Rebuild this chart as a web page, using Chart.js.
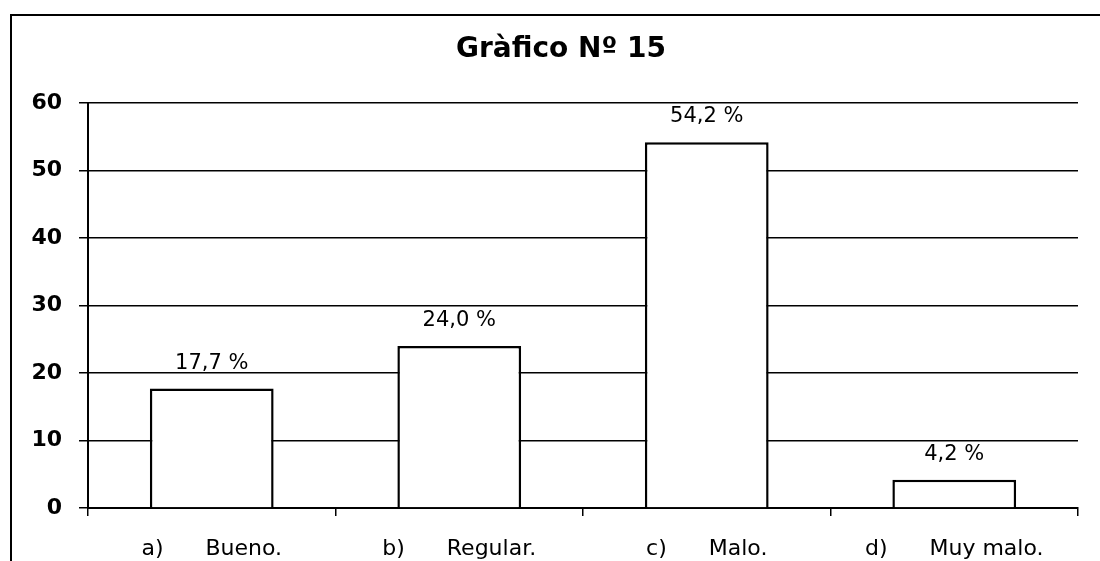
<!DOCTYPE html>
<html>
<head>
<meta charset="utf-8">
<script src="https://cdn.jsdelivr.net/npm/chart.js@4"></script>
<style>
html,body{margin:0;padding:0;background:#fff;}
#wrap{width:1100px;height:561px;position:relative;}
</style>
</head>
<body>
<div id="wrap"><canvas id="c" width="1100" height="561"></canvas></div>
<script>
const categories = ["a)      Bueno.", "b)      Regular.", "c)      Malo.", "d)      Muy malo."];
const values = [17.7, 24.0, 54.2, 4.2];
const valueLabels = ["17,7 %", "24,0 %", "54,2 %", "4,2 %"];
const yTicks = [0, 10, 20, 30, 40, 50, 60];
const titleText = "Gràfico Nº 15";

const frame = {
  id: 'frame',
  beforeDraw(chart) {
    const ctx = chart.ctx;
    ctx.save();
    ctx.fillStyle = '#fff';
    ctx.fillRect(0, 0, chart.width, chart.height);
    ctx.strokeStyle = '#000';
    ctx.lineWidth = 2;
    ctx.beginPath();
    ctx.moveTo(11, 561);
    ctx.lineTo(11, 15);
    ctx.lineTo(1100, 15);
    ctx.stroke();
    ctx.fillStyle = '#000';
    ctx.font = 'bold 28px "DejaVu Sans"';
    ctx.textAlign = 'center';
    ctx.textBaseline = 'middle';
    ctx.fillText(titleText, 561, 50);
    ctx.restore();
  }
};

const barLabels = {
  id: 'barLabels',
  afterDatasetsDraw(chart) {
    const ctx = chart.ctx;
    const meta = chart.getDatasetMeta(0);
    ctx.save();
    ctx.fillStyle = '#000';
    ctx.font = '21px "DejaVu Sans"';
    ctx.textAlign = 'center';
    ctx.textBaseline = 'alphabetic';
    meta.data.forEach((el, i) => {
      ctx.fillText(valueLabels[i], el.x, el.y - 20);
    });
    ctx.restore();
  }
};

new Chart(document.getElementById('c'), {
  type: 'bar',
  data: {
    labels: categories,
    datasets: [{
      data: values,
      backgroundColor: '#ffffff',
      borderColor: '#000000',
      borderWidth: 2.5,
      barPercentage: 0.5,
      categoryPercentage: 1.0
    }]
  },
  options: {
    responsive: false,
    animation: false,
    layout: { padding: { left: 0, right: 22, top: 103, bottom: 0 } },
    plugins: {
      legend: { display: false },
      tooltip: { enabled: false },
      title: { display: false }
    },
    scales: {
      x: {
        afterFit(scale) { scale.height = 53; },
        grid: { display: true, drawOnChartArea: false, drawTicks: true, tickLength: 8, color: '#000', lineWidth: 1.5, offset: true },
        border: { display: true, color: '#000', width: 2 },
        ticks: { color: '#000', font: { family: '"DejaVu Sans"', size: 22 }, padding: 20, maxRotation: 0, autoSkip: false }
      },
      y: {
        min: 0, max: 60,
        afterFit(scale) { scale.width = 88; },
        afterBuildTicks(scale) { scale.ticks = yTicks.map(v => ({ value: v })); },
        grid: { color: '#000', lineWidth: 1.5, tickLength: 9 },
        border: { display: true, color: '#000', width: 2 },
        ticks: { color: '#000', font: { family: '"DejaVu Sans"', size: 22, weight: 'bold' }, padding: 17 }
      }
    }
  },
  plugins: [frame, barLabels]
});
</script>
</body>
</html>
